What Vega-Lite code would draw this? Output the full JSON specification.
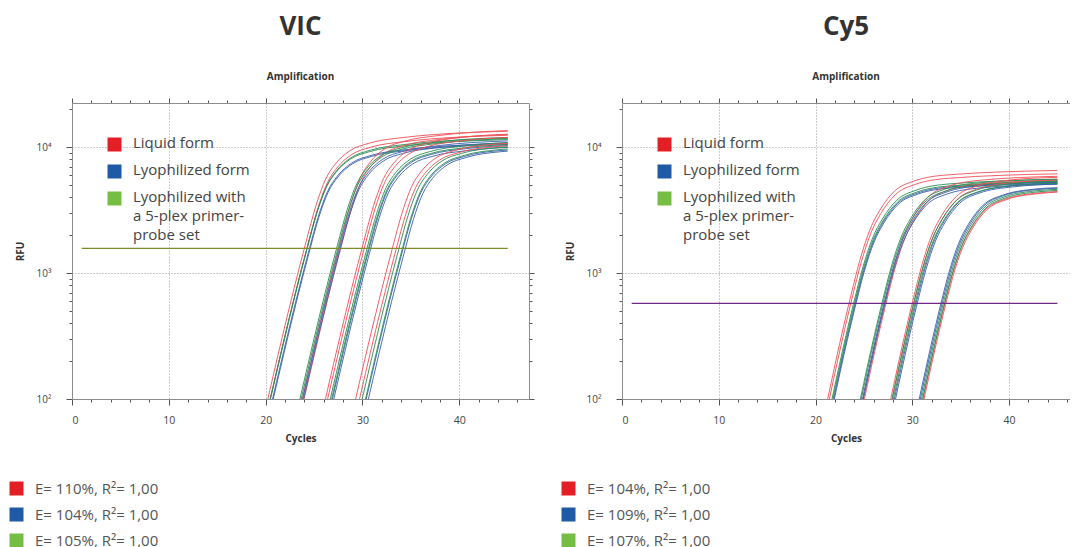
{
  "$schema": "https://vega.github.io/schema/vega-lite/v6.json",
  "padding": {"left": 9, "top": 13, "right": 0, "bottom": 0},
  "spacing": 26,
  "datasets": {
    "keys": [{"g": "L"}, {"g": "F"}, {"g": "P"}],
    "thr": [
      {"p": "VIC", "a": 1, "b": 45, "y": 1570},
      {"p": "Cy5", "a": 1, "b": 45, "y": 575}
    ],
    "vic": [
      {"g":"L","k":1,"c":19.2,"v":45.3},{"g":"L","k":1,"c":24.2,"v":1803},{"g":"L","k":1,"c":25.2,"v":3437},{"g":"L","k":1,"c":26.2,"v":5573},{"g":"L","k":1,"c":27.2,"v":7347},{"g":"L","k":1,"c":28.7,"v":9356},{"g":"L","k":1,"c":30.7,"v":10744},{"g":"L","k":1,"c":34.2,"v":11915},{"g":"L","k":1,"c":45,"v":13370},
      {"g":"L","k":2,"c":19.35,"v":42.1},{"g":"L","k":2,"c":24.35,"v":1674},{"g":"L","k":2,"c":25.35,"v":3192},{"g":"L","k":2,"c":26.35,"v":5175},{"g":"L","k":2,"c":27.35,"v":6822},{"g":"L","k":2,"c":28.85,"v":8688},{"g":"L","k":2,"c":30.85,"v":9976},{"g":"L","k":2,"c":34.35,"v":11064},{"g":"L","k":2,"c":45,"v":12415},
      {"g":"F","k":3,"c":19.4,"v":36.2},{"g":"F","k":3,"c":24.4,"v":1443},{"g":"F","k":3,"c":25.4,"v":2750},{"g":"F","k":3,"c":26.4,"v":4459},{"g":"F","k":3,"c":27.4,"v":5878},{"g":"F","k":3,"c":28.9,"v":7485},{"g":"F","k":3,"c":30.9,"v":8595},{"g":"F","k":3,"c":34.4,"v":9532},{"g":"F","k":3,"c":45,"v":10696},
      {"g":"F","k":4,"c":19.45,"v":35.6},{"g":"F","k":4,"c":24.45,"v":1417},{"g":"F","k":4,"c":25.45,"v":2701},{"g":"F","k":4,"c":26.45,"v":4379},{"g":"F","k":4,"c":27.45,"v":5773},{"g":"F","k":4,"c":28.95,"v":7351},{"g":"F","k":4,"c":30.95,"v":8441},{"g":"F","k":4,"c":34.45,"v":9362},{"g":"F","k":4,"c":45,"v":10505},
      {"g":"P","k":5,"c":19.3,"v":39.8},{"g":"P","k":5,"c":24.3,"v":1584},{"g":"P","k":5,"c":25.3,"v":3020},{"g":"P","k":5,"c":26.3,"v":4897},{"g":"P","k":5,"c":27.3,"v":6455},{"g":"P","k":5,"c":28.8,"v":8220},{"g":"P","k":5,"c":30.8,"v":9439},{"g":"P","k":5,"c":34.3,"v":10469},{"g":"P","k":5,"c":45,"v":11747},
      {"g":"P","k":6,"c":19.25,"v":38.8},{"g":"P","k":6,"c":24.25,"v":1546},{"g":"P","k":6,"c":25.25,"v":2946},{"g":"P","k":6,"c":26.25,"v":4777},{"g":"P","k":6,"c":27.25,"v":6298},{"g":"P","k":6,"c":28.75,"v":8020},{"g":"P","k":6,"c":30.75,"v":9209},{"g":"P","k":6,"c":34.25,"v":10213},{"g":"P","k":6,"c":45,"v":11460},
      {"g":"L","k":7,"c":22.8,"v":46.9},{"g":"L","k":7,"c":27.8,"v":1868},{"g":"L","k":7,"c":28.8,"v":3560},{"g":"L","k":7,"c":29.8,"v":5772},{"g":"L","k":7,"c":30.8,"v":7610},{"g":"L","k":7,"c":32.3,"v":9690},{"g":"L","k":7,"c":34.3,"v":11127},{"g":"L","k":7,"c":37.8,"v":12341},{"g":"L","k":7,"c":45,"v":13529},
      {"g":"L","k":8,"c":22.9,"v":43.7},{"g":"L","k":8,"c":27.9,"v":1739},{"g":"L","k":8,"c":28.9,"v":3314},{"g":"L","k":8,"c":29.9,"v":5374},{"g":"L","k":8,"c":30.9,"v":7085},{"g":"L","k":8,"c":32.4,"v":9022},{"g":"L","k":8,"c":34.4,"v":10360},{"g":"L","k":8,"c":37.9,"v":11490},{"g":"L","k":8,"c":45,"v":12596},
      {"g":"F","k":9,"c":22.6,"v":38.8},{"g":"F","k":9,"c":27.6,"v":1546},{"g":"F","k":9,"c":28.6,"v":2946},{"g":"F","k":9,"c":29.6,"v":4777},{"g":"F","k":9,"c":30.6,"v":6298},{"g":"F","k":9,"c":32.1,"v":8020},{"g":"F","k":9,"c":34.1,"v":9209},{"g":"F","k":9,"c":37.6,"v":10213},{"g":"F","k":9,"c":45,"v":11196},
      {"g":"F","k":10,"c":22.65,"v":37.5},{"g":"F","k":10,"c":27.65,"v":1494},{"g":"F","k":10,"c":28.65,"v":2848},{"g":"F","k":10,"c":29.65,"v":4618},{"g":"F","k":10,"c":30.65,"v":6088},{"g":"F","k":10,"c":32.15,"v":7752},{"g":"F","k":10,"c":34.15,"v":8902},{"g":"F","k":10,"c":37.65,"v":9873},{"g":"F","k":10,"c":45,"v":10823},
      {"g":"P","k":11,"c":22.4,"v":41.4},{"g":"P","k":11,"c":27.4,"v":1649},{"g":"P","k":11,"c":28.4,"v":3142},{"g":"P","k":11,"c":29.4,"v":5096},{"g":"P","k":11,"c":30.4,"v":6717},{"g":"P","k":11,"c":31.9,"v":8554},{"g":"P","k":11,"c":33.9,"v":9823},{"g":"P","k":11,"c":37.4,"v":10894},{"g":"P","k":11,"c":45,"v":11942},
      {"g":"P","k":12,"c":22.5,"v":40.5},{"g":"P","k":12,"c":27.5,"v":1610},{"g":"P","k":12,"c":28.5,"v":3069},{"g":"P","k":12,"c":29.5,"v":4976},{"g":"P","k":12,"c":30.5,"v":6560},{"g":"P","k":12,"c":32,"v":8354},{"g":"P","k":12,"c":34,"v":9593},{"g":"P","k":12,"c":37.5,"v":10639},{"g":"P","k":12,"c":45,"v":11663},
      {"g":"L","k":13,"c":25.15,"v":45.3},{"g":"L","k":13,"c":30.15,"v":1803},{"g":"L","k":13,"c":31.15,"v":3437},{"g":"L","k":13,"c":32.15,"v":5573},{"g":"L","k":13,"c":33.15,"v":7347},{"g":"L","k":13,"c":34.65,"v":9356},{"g":"L","k":13,"c":36.65,"v":10744},{"g":"L","k":13,"c":40.15,"v":11915},{"g":"L","k":13,"c":45,"v":12656},
      {"g":"L","k":14,"c":25.3,"v":42.7},{"g":"L","k":14,"c":30.3,"v":1700},{"g":"L","k":14,"c":31.3,"v":3241},{"g":"L","k":14,"c":32.3,"v":5255},{"g":"L","k":14,"c":33.3,"v":6927},{"g":"L","k":14,"c":34.8,"v":8822},{"g":"L","k":14,"c":36.8,"v":10130},{"g":"L","k":14,"c":40.3,"v":11235},{"g":"L","k":14,"c":45,"v":11933},
      {"g":"F","k":15,"c":25.6,"v":36.9},{"g":"F","k":15,"c":30.6,"v":1468},{"g":"F","k":15,"c":31.6,"v":2799},{"g":"F","k":15,"c":32.6,"v":4538},{"g":"F","k":15,"c":33.6,"v":5983},{"g":"F","k":15,"c":35.1,"v":7619},{"g":"F","k":15,"c":37.1,"v":8748},{"g":"F","k":15,"c":40.6,"v":9703},{"g":"F","k":15,"c":45,"v":10306},
      {"g":"F","k":16,"c":25.7,"v":35.6},{"g":"F","k":16,"c":30.7,"v":1417},{"g":"F","k":16,"c":31.7,"v":2701},{"g":"F","k":16,"c":32.7,"v":4379},{"g":"F","k":16,"c":33.7,"v":5773},{"g":"F","k":16,"c":35.2,"v":7351},{"g":"F","k":16,"c":37.2,"v":8441},{"g":"F","k":16,"c":40.7,"v":9362},{"g":"F","k":16,"c":45,"v":9944},
      {"g":"P","k":17,"c":25.45,"v":38.8},{"g":"P","k":17,"c":30.45,"v":1546},{"g":"P","k":17,"c":31.45,"v":2946},{"g":"P","k":17,"c":32.45,"v":4777},{"g":"P","k":17,"c":33.45,"v":6298},{"g":"P","k":17,"c":34.95,"v":8020},{"g":"P","k":17,"c":36.95,"v":9209},{"g":"P","k":17,"c":40.45,"v":10213},{"g":"P","k":17,"c":45,"v":10848},
      {"g":"P","k":18,"c":25.55,"v":37.5},{"g":"P","k":18,"c":30.55,"v":1494},{"g":"P","k":18,"c":31.55,"v":2848},{"g":"P","k":18,"c":32.55,"v":4618},{"g":"P","k":18,"c":33.55,"v":6088},{"g":"P","k":18,"c":35.05,"v":7752},{"g":"P","k":18,"c":37.05,"v":8902},{"g":"P","k":18,"c":40.55,"v":9873},{"g":"P","k":18,"c":45,"v":10486},
      {"g":"L","k":19,"c":28.1,"v":39.8},{"g":"L","k":19,"c":33.1,"v":1584},{"g":"L","k":19,"c":34.1,"v":3020},{"g":"L","k":19,"c":35.1,"v":4897},{"g":"L","k":19,"c":36.1,"v":6455},{"g":"L","k":19,"c":37.6,"v":8220},{"g":"L","k":19,"c":39.6,"v":9439},{"g":"L","k":19,"c":43.1,"v":10469},{"g":"L","k":19,"c":45,"v":10700},
      {"g":"L","k":20,"c":28.45,"v":38.2},{"g":"L","k":20,"c":33.45,"v":1520},{"g":"L","k":20,"c":34.45,"v":2897},{"g":"L","k":20,"c":35.45,"v":4698},{"g":"L","k":20,"c":36.45,"v":6193},{"g":"L","k":20,"c":37.95,"v":7886},{"g":"L","k":20,"c":39.95,"v":9055},{"g":"L","k":20,"c":43.45,"v":10043},{"g":"L","k":20,"c":45,"v":10230},
      {"g":"F","k":21,"c":29.05,"v":35.6},{"g":"F","k":21,"c":34.05,"v":1417},{"g":"F","k":21,"c":35.05,"v":2701},{"g":"F","k":21,"c":36.05,"v":4379},{"g":"F","k":21,"c":37.05,"v":5773},{"g":"F","k":21,"c":38.55,"v":7351},{"g":"F","k":21,"c":40.55,"v":8441},{"g":"F","k":21,"c":44.05,"v":9362},{"g":"F","k":21,"c":45,"v":9480},
      {"g":"F","k":22,"c":29.25,"v":34.9},{"g":"F","k":22,"c":34.25,"v":1391},{"g":"F","k":22,"c":35.25,"v":2651},{"g":"F","k":22,"c":36.25,"v":4299},{"g":"F","k":22,"c":37.25,"v":5668},{"g":"F","k":22,"c":38.75,"v":7218},{"g":"F","k":22,"c":40.75,"v":8288},{"g":"F","k":22,"c":44.25,"v":9192},{"g":"F","k":22,"c":45,"v":9290},
      {"g":"P","k":23,"c":28.7,"v":37.5},{"g":"P","k":23,"c":33.7,"v":1494},{"g":"P","k":23,"c":34.7,"v":2848},{"g":"P","k":23,"c":35.7,"v":4618},{"g":"P","k":23,"c":36.7,"v":6088},{"g":"P","k":23,"c":38.2,"v":7752},{"g":"P","k":23,"c":40.2,"v":8902},{"g":"P","k":23,"c":43.7,"v":9873},{"g":"P","k":23,"c":45,"v":10050},
      {"g":"P","k":24,"c":29,"v":36.2},{"g":"P","k":24,"c":34,"v":1443},{"g":"P","k":24,"c":35,"v":2750},{"g":"P","k":24,"c":36,"v":4459},{"g":"P","k":24,"c":37,"v":5878},{"g":"P","k":24,"c":38.5,"v":7485},{"g":"P","k":24,"c":40.5,"v":8595},{"g":"P","k":24,"c":44,"v":9532},{"g":"P","k":24,"c":45,"v":9680}
    ],
    "cy5": [
      {"g":"L","k":1,"c":20.65,"v":60.2},{"g":"L","k":1,"c":23.65,"v":660},{"g":"L","k":1,"c":24.65,"v":1317},{"g":"L","k":1,"c":25.65,"v":2236},{"g":"L","k":1,"c":26.65,"v":3159},{"g":"L","k":1,"c":28.15,"v":4462},{"g":"L","k":1,"c":30.15,"v":5364},{"g":"L","k":1,"c":33.65,"v":6019},{"g":"L","k":1,"c":45,"v":6527},
      {"g":"L","k":2,"c":20.75,"v":56.5},{"g":"L","k":2,"c":23.75,"v":620},{"g":"L","k":2,"c":24.75,"v":1237},{"g":"L","k":2,"c":25.75,"v":2101},{"g":"L","k":2,"c":26.75,"v":2967},{"g":"L","k":2,"c":28.25,"v":4192},{"g":"L","k":2,"c":30.25,"v":5039},{"g":"L","k":2,"c":33.75,"v":5654},{"g":"L","k":2,"c":45,"v":6132},
      {"g":"F","k":3,"c":21,"v":48.3},{"g":"F","k":3,"c":24,"v":530},{"g":"F","k":3,"c":25,"v":1057},{"g":"F","k":3,"c":26,"v":1796},{"g":"F","k":3,"c":27,"v":2537},{"g":"F","k":3,"c":28.5,"v":3583},{"g":"F","k":3,"c":30.5,"v":4308},{"g":"F","k":3,"c":34,"v":4834},{"g":"F","k":3,"c":45,"v":5242},
      {"g":"F","k":4,"c":21.05,"v":47.4},{"g":"F","k":4,"c":24.05,"v":520},{"g":"F","k":4,"c":25.05,"v":1037},{"g":"F","k":4,"c":26.05,"v":1762},{"g":"F","k":4,"c":27.05,"v":2489},{"g":"F","k":4,"c":28.55,"v":3516},{"g":"F","k":4,"c":30.55,"v":4227},{"g":"F","k":4,"c":34.05,"v":4742},{"g":"F","k":4,"c":45,"v":5143},
      {"g":"P","k":5,"c":20.9,"v":51.1},{"g":"P","k":5,"c":23.9,"v":560},{"g":"P","k":5,"c":24.9,"v":1117},{"g":"P","k":5,"c":25.9,"v":1897},{"g":"P","k":5,"c":26.9,"v":2680},{"g":"P","k":5,"c":28.4,"v":3786},{"g":"P","k":5,"c":30.4,"v":4552},{"g":"P","k":5,"c":33.9,"v":5107},{"g":"P","k":5,"c":45,"v":5538},
      {"g":"P","k":6,"c":20.95,"v":49.2},{"g":"P","k":6,"c":23.95,"v":540},{"g":"P","k":6,"c":24.95,"v":1077},{"g":"P","k":6,"c":25.95,"v":1830},{"g":"P","k":6,"c":26.95,"v":2584},{"g":"P","k":6,"c":28.45,"v":3651},{"g":"P","k":6,"c":30.45,"v":4389},{"g":"P","k":6,"c":33.95,"v":4925},{"g":"P","k":6,"c":45,"v":5341},
      {"g":"L","k":7,"c":24.2,"v":54.7},{"g":"L","k":7,"c":27.2,"v":600},{"g":"L","k":7,"c":28.2,"v":1197},{"g":"L","k":7,"c":29.2,"v":2033},{"g":"L","k":7,"c":30.2,"v":2872},{"g":"L","k":7,"c":31.7,"v":4057},{"g":"L","k":7,"c":33.7,"v":4877},{"g":"L","k":7,"c":37.2,"v":5472},{"g":"L","k":7,"c":45,"v":5862},
      {"g":"L","k":8,"c":24.25,"v":51.1},{"g":"L","k":8,"c":27.25,"v":560},{"g":"L","k":8,"c":28.25,"v":1117},{"g":"L","k":8,"c":29.25,"v":1897},{"g":"L","k":8,"c":30.25,"v":2680},{"g":"L","k":8,"c":31.75,"v":3786},{"g":"L","k":8,"c":33.75,"v":4552},{"g":"L","k":8,"c":37.25,"v":5107},{"g":"L","k":8,"c":45,"v":5471},
      {"g":"F","k":9,"c":24,"v":49.2},{"g":"F","k":9,"c":27,"v":540},{"g":"F","k":9,"c":28,"v":1077},{"g":"F","k":9,"c":29,"v":1830},{"g":"F","k":9,"c":30,"v":2584},{"g":"F","k":9,"c":31.5,"v":3651},{"g":"F","k":9,"c":33.5,"v":4389},{"g":"F","k":9,"c":37,"v":4925},{"g":"F","k":9,"c":45,"v":5276},
      {"g":"F","k":10,"c":24.05,"v":47.4},{"g":"F","k":10,"c":27.05,"v":520},{"g":"F","k":10,"c":28.05,"v":1037},{"g":"F","k":10,"c":29.05,"v":1762},{"g":"F","k":10,"c":30.05,"v":2489},{"g":"F","k":10,"c":31.55,"v":3516},{"g":"F","k":10,"c":33.55,"v":4227},{"g":"F","k":10,"c":37.05,"v":4742},{"g":"F","k":10,"c":45,"v":5080},
      {"g":"P","k":11,"c":23.85,"v":52},{"g":"P","k":11,"c":26.85,"v":570},{"g":"P","k":11,"c":27.85,"v":1137},{"g":"P","k":11,"c":28.85,"v":1931},{"g":"P","k":11,"c":29.85,"v":2728},{"g":"P","k":11,"c":31.35,"v":3854},{"g":"P","k":11,"c":33.35,"v":4633},{"g":"P","k":11,"c":36.85,"v":5198},{"g":"P","k":11,"c":45,"v":5569},
      {"g":"P","k":12,"c":23.9,"v":50.2},{"g":"P","k":12,"c":26.9,"v":550},{"g":"P","k":12,"c":27.9,"v":1097},{"g":"P","k":12,"c":28.9,"v":1863},{"g":"P","k":12,"c":29.9,"v":2632},{"g":"P","k":12,"c":31.4,"v":3719},{"g":"P","k":12,"c":33.4,"v":4470},{"g":"P","k":12,"c":36.9,"v":5016},{"g":"P","k":12,"c":45,"v":5374},
      {"g":"L","k":13,"c":27.05,"v":54.7},{"g":"L","k":13,"c":30.05,"v":600},{"g":"L","k":13,"c":31.05,"v":1197},{"g":"L","k":13,"c":32.05,"v":2033},{"g":"L","k":13,"c":33.05,"v":2872},{"g":"L","k":13,"c":34.55,"v":4057},{"g":"L","k":13,"c":36.55,"v":4877},{"g":"L","k":13,"c":40.05,"v":5472},{"g":"L","k":13,"c":45,"v":5754},
      {"g":"L","k":14,"c":27.15,"v":52},{"g":"L","k":14,"c":30.15,"v":570},{"g":"L","k":14,"c":31.15,"v":1137},{"g":"L","k":14,"c":32.15,"v":1931},{"g":"L","k":14,"c":33.15,"v":2728},{"g":"L","k":14,"c":34.65,"v":3854},{"g":"L","k":14,"c":36.65,"v":4633},{"g":"L","k":14,"c":40.15,"v":5198},{"g":"L","k":14,"c":45,"v":5466},
      {"g":"F","k":15,"c":27.3,"v":49.2},{"g":"F","k":15,"c":30.3,"v":540},{"g":"F","k":15,"c":31.3,"v":1077},{"g":"F","k":15,"c":32.3,"v":1830},{"g":"F","k":15,"c":33.3,"v":2584},{"g":"F","k":15,"c":34.8,"v":3651},{"g":"F","k":15,"c":36.8,"v":4389},{"g":"F","k":15,"c":40.3,"v":4925},{"g":"F","k":15,"c":45,"v":5179},
      {"g":"F","k":16,"c":27.4,"v":48.3},{"g":"F","k":16,"c":30.4,"v":530},{"g":"F","k":16,"c":31.4,"v":1057},{"g":"F","k":16,"c":32.4,"v":1796},{"g":"F","k":16,"c":33.4,"v":2537},{"g":"F","k":16,"c":34.9,"v":3583},{"g":"F","k":16,"c":36.9,"v":4308},{"g":"F","k":16,"c":40.4,"v":4834},{"g":"F","k":16,"c":45,"v":5083},
      {"g":"P","k":17,"c":27.1,"v":51.1},{"g":"P","k":17,"c":30.1,"v":560},{"g":"P","k":17,"c":31.1,"v":1117},{"g":"P","k":17,"c":32.1,"v":1897},{"g":"P","k":17,"c":33.1,"v":2680},{"g":"P","k":17,"c":34.6,"v":3786},{"g":"P","k":17,"c":36.6,"v":4552},{"g":"P","k":17,"c":40.1,"v":5107},{"g":"P","k":17,"c":45,"v":5370},
      {"g":"P","k":18,"c":27.2,"v":49.2},{"g":"P","k":18,"c":30.2,"v":540},{"g":"P","k":18,"c":31.2,"v":1077},{"g":"P","k":18,"c":32.2,"v":1830},{"g":"P","k":18,"c":33.2,"v":2584},{"g":"P","k":18,"c":34.7,"v":3651},{"g":"P","k":18,"c":36.7,"v":4389},{"g":"P","k":18,"c":40.2,"v":4925},{"g":"P","k":18,"c":45,"v":5179},
      {"g":"L","k":19,"c":30.1,"v":43.3},{"g":"L","k":19,"c":33.1,"v":475},{"g":"L","k":19,"c":34.1,"v":948},{"g":"L","k":19,"c":35.1,"v":1609},{"g":"L","k":19,"c":36.1,"v":2273},{"g":"L","k":19,"c":37.6,"v":3211},{"g":"L","k":19,"c":39.6,"v":3861},{"g":"L","k":19,"c":43.1,"v":4332},{"g":"L","k":19,"c":45,"v":4440},
      {"g":"L","k":20,"c":30.2,"v":42.9},{"g":"L","k":20,"c":33.2,"v":470},{"g":"L","k":20,"c":34.2,"v":938},{"g":"L","k":20,"c":35.2,"v":1592},{"g":"L","k":20,"c":36.2,"v":2249},{"g":"L","k":20,"c":37.7,"v":3178},{"g":"L","k":20,"c":39.7,"v":3820},{"g":"L","k":20,"c":43.2,"v":4286},{"g":"L","k":20,"c":45,"v":4390},
      {"g":"F","k":21,"c":29.8,"v":46.5},{"g":"F","k":21,"c":32.8,"v":510},{"g":"F","k":21,"c":33.8,"v":1017},{"g":"F","k":21,"c":34.8,"v":1728},{"g":"F","k":21,"c":35.8,"v":2441},{"g":"F","k":21,"c":37.3,"v":3448},{"g":"F","k":21,"c":39.3,"v":4145},{"g":"F","k":21,"c":42.8,"v":4651},{"g":"F","k":21,"c":45,"v":4760},
      {"g":"F","k":22,"c":29.9,"v":46.1},{"g":"F","k":22,"c":32.9,"v":505},{"g":"F","k":22,"c":33.9,"v":1007},{"g":"F","k":22,"c":34.9,"v":1711},{"g":"F","k":22,"c":35.9,"v":2417},{"g":"F","k":22,"c":37.4,"v":3414},{"g":"F","k":22,"c":39.4,"v":4105},{"g":"F","k":22,"c":42.9,"v":4606},{"g":"F","k":22,"c":45,"v":4710},
      {"g":"P","k":23,"c":30,"v":45.1},{"g":"P","k":23,"c":33,"v":495},{"g":"P","k":23,"c":34,"v":988},{"g":"P","k":23,"c":35,"v":1677},{"g":"P","k":23,"c":36,"v":2369},{"g":"P","k":23,"c":37.5,"v":3347},{"g":"P","k":23,"c":39.5,"v":4023},{"g":"P","k":23,"c":43,"v":4514},{"g":"P","k":23,"c":45,"v":4620},
      {"g":"P","k":24,"c":30.1,"v":44.2},{"g":"P","k":24,"c":33.1,"v":485},{"g":"P","k":24,"c":34.1,"v":968},{"g":"P","k":24,"c":35.1,"v":1643},{"g":"P","k":24,"c":36.1,"v":2321},{"g":"P","k":24,"c":37.6,"v":3279},{"g":"P","k":24,"c":39.6,"v":3942},{"g":"P","k":24,"c":43.1,"v":4423},{"g":"P","k":24,"c":45,"v":4530}
    ]
  },
  "hconcat": [
    {
      "title": {"text": "VIC", "subtitle": "Amplification"},
      "width": 457,
      "height": 296,
      "layer": [
        {
          "data": {"name": "vic"},
          "mark": {"type": "line", "clip": true, "strokeWidth": 1, "interpolate": "monotone", "opacity": 0.9},
          "encoding": {
            "x": {
              "field": "c", "type": "quantitative", "title": "Cycles",
              "scale": {"domain": [0, 47.2], "nice": false, "zero": false},
              "axis": {
                "values": [0,2,4,6,8,10,12,14,16,18,20,22,24,26,28,30,32,34,36,38,40,42,44,46],
                "labelExpr": "datum.value % 10 === 0 ? datum.label : ''",
                "tickSize": {"condition": {"test": "datum.value % 10 === 0", "value": 6}, "value": 3},
                "gridOpacity": {"condition": {"test": "datum.value % 10 === 0 && datum.value > 0", "value": 1}, "value": 0},
                "grid": true, "gridDash": [1, 2], "gridColor": "#9a9a9a",
                "labelPadding": 10, "labelFontSize": 10.5, "titlePadding": 8
              }
            },
            "y": {
              "field": "v", "type": "quantitative", "title": "RFU",
              "scale": {"type": "log", "domain": [100, 22400], "nice": false},
              "axis": {
                "values": [100,200,300,400,500,600,700,800,900,1000,2000,3000,4000,5000,6000,7000,8000,9000,10000,20000],
                "labelExpr": "datum.value === 100 ? '10²' : datum.value === 1000 ? '10³' : datum.value === 10000 ? '10⁴' : ''",
                "tickSize": {"condition": {"test": "datum.value === 100 || datum.value === 1000 || datum.value === 10000", "value": 6}, "value": 3},
                "gridOpacity": {"condition": {"test": "datum.value === 1000 || datum.value === 10000", "value": 1}, "value": 0},
                "grid": true, "gridDash": [1, 2], "gridColor": "#9a9a9a",
                "labelPadding": 15, "titlePadding": 11
              }
            },
            "color": {
              "field": "g", "type": "nominal", "legend": null,
              "scale": {"domain": ["L", "F", "P"], "range": ["#ef4f56", "#3a5eab", "#2a8d55"]}
            },
            "detail": {"field": "k", "type": "nominal"}
          }
        },
        {
          "data": {"name": "thr"},
          "transform": [{"filter": "datum.p === 'VIC'"}],
          "mark": {"type": "rule", "color": "#7d8c2a", "strokeWidth": 1.2},
          "encoding": {
            "x": {
              "field": "a", "type": "quantitative",
              "axis": {
                "orient": "top", "title": null, "labels": false, "grid": false,
                "values": [0,2,4,6,8,10,12,14,16,18,20,22,24,26,28,30,32,34,36,38,40,42,44,46],
                "tickSize": {"condition": {"test": "datum.value % 10 === 0", "value": 5}, "value": 3}
              }
            },
            "x2": {"field": "b"},
            "y": {
              "field": "y", "type": "quantitative",
              "axis": {
                "orient": "right", "title": null, "labels": false, "grid": false,
                "values": [100,200,300,400,500,600,700,800,900,1000,2000,3000,4000,5000,6000,7000,8000,9000,10000,20000],
                "tickSize": {"condition": {"test": "datum.value === 100 || datum.value === 1000 || datum.value === 10000", "value": 5}, "value": 3}
              }
            }
          }
        },
        {
          "data": {"name": "keys"},
          "mark": {"type": "square", "opacity": 0},
          "encoding": {
            "fill": {
              "field": "g", "type": "nominal",
              "scale": {"domain": ["L", "F", "P"], "range": ["#e31e24", "#1f5aa6", "#76bd43"]},
              "legend": {
                "orient": "none", "legendX": 35, "legendY": 34, "title": null,
                "symbolType": "square", "symbolSize": 196, "symbolOpacity": 1, "symbolStrokeWidth": 0,
                "labelFontSize": 15, "labelColor": "#444", "labelLimit": 400, "labelOffset": 11,
                "rowPadding": 10, "labelBaseline": "top",
                "labelExpr": "datum.value === 'L' ? 'Liquid form' : datum.value === 'F' ? 'Lyophilized form' : ['Lyophilized with', 'a 5-plex primer-', 'probe set']",
                "encode": {
                  "labels": {"update": {"dy": {"value": -9}, "lineHeight": {"value": 19}}},
                  "symbols": {"update": {"opacity": {"value": 1}, "fillOpacity": {"value": 1}}}
                }
              }
            }
          }
        },
        {
          "data": {"name": "keys"},
          "mark": {"type": "square", "opacity": 0},
          "encoding": {
            "fill": {
              "field": "g", "type": "nominal",
              "scale": {"domain": ["L", "F", "P"], "range": ["#e31e24", "#1f5aa6", "#76bd43"]},
              "legend": {
                "orient": "none", "legendX": -63, "legendY": 378, "title": null,
                "symbolType": "square", "symbolSize": 196, "symbolOpacity": 1, "symbolStrokeWidth": 0,
                "labelFontSize": 15, "labelColor": "#555", "labelLimit": 400, "labelOffset": 11,
                "rowPadding": 10,
                "labelExpr": "datum.value === 'L' ? 'E= 110%, R²= 1,00' : datum.value === 'F' ? 'E= 104%, R²= 1,00' : 'E= 105%, R²= 1,00'",
                "encode": {
                  "symbols": {"update": {"opacity": {"value": 1}, "fillOpacity": {"value": 1}}}
                }
              }
            }
          }
        }
      ],
      "resolve": {
        "scale": {"fill": "independent"},
        "legend": {"fill": "independent"},
        "axis": {"x": "independent", "y": "independent"}
      }
    },
    {
      "title": {"text": "Cy5", "subtitle": "Amplification"},
      "width": 448,
      "height": 296,
      "layer": [
        {
          "data": {"name": "cy5"},
          "mark": {"type": "line", "clip": true, "strokeWidth": 1, "interpolate": "monotone", "opacity": 0.9},
          "encoding": {
            "x": {
              "field": "c", "type": "quantitative", "title": "Cycles",
              "scale": {"domain": [0, 46.3], "nice": false, "zero": false},
              "axis": {
                "values": [0,2,4,6,8,10,12,14,16,18,20,22,24,26,28,30,32,34,36,38,40,42,44,46],
                "labelExpr": "datum.value % 10 === 0 ? datum.label : ''",
                "tickSize": {"condition": {"test": "datum.value % 10 === 0", "value": 6}, "value": 3},
                "gridOpacity": {"condition": {"test": "datum.value % 10 === 0 && datum.value > 0", "value": 1}, "value": 0},
                "grid": true, "gridDash": [1, 2], "gridColor": "#9a9a9a",
                "labelPadding": 10, "labelFontSize": 10.5, "titlePadding": 8
              }
            },
            "y": {
              "field": "v", "type": "quantitative", "title": "RFU",
              "scale": {"type": "log", "domain": [100, 22400], "nice": false},
              "axis": {
                "values": [100,200,300,400,500,600,700,800,900,1000,2000,3000,4000,5000,6000,7000,8000,9000,10000,20000],
                "labelExpr": "datum.value === 100 ? '10²' : datum.value === 1000 ? '10³' : datum.value === 10000 ? '10⁴' : ''",
                "tickSize": {"condition": {"test": "datum.value === 100 || datum.value === 1000 || datum.value === 10000", "value": 6}, "value": 3},
                "gridOpacity": {"condition": {"test": "datum.value === 1000 || datum.value === 10000", "value": 1}, "value": 0},
                "grid": true, "gridDash": [1, 2], "gridColor": "#9a9a9a",
                "labelPadding": 15, "titlePadding": 11
              }
            },
            "color": {
              "field": "g", "type": "nominal", "legend": null,
              "scale": {"domain": ["L", "F", "P"], "range": ["#ef4f56", "#3a5eab", "#2a8d55"]}
            },
            "detail": {"field": "k", "type": "nominal"}
          }
        },
        {
          "data": {"name": "thr"},
          "transform": [{"filter": "datum.p === 'Cy5'"}],
          "mark": {"type": "rule", "color": "#6e2a86", "strokeWidth": 1.2},
          "encoding": {
            "x": {
              "field": "a", "type": "quantitative",
              "axis": {
                "orient": "top", "title": null, "labels": false, "grid": false,
                "values": [0,2,4,6,8,10,12,14,16,18,20,22,24,26,28,30,32,34,36,38,40,42,44,46],
                "tickSize": {"condition": {"test": "datum.value % 10 === 0", "value": 5}, "value": 3}
              }
            },
            "x2": {"field": "b"},
            "y": {"field": "y", "type": "quantitative", "axis": null}
          }
        },
        {
          "data": {"name": "keys"},
          "mark": {"type": "square", "opacity": 0},
          "encoding": {
            "fill": {
              "field": "g", "type": "nominal",
              "scale": {"domain": ["L", "F", "P"], "range": ["#e31e24", "#1f5aa6", "#76bd43"]},
              "legend": {
                "orient": "none", "legendX": 35, "legendY": 34, "title": null,
                "symbolType": "square", "symbolSize": 196, "symbolOpacity": 1, "symbolStrokeWidth": 0,
                "labelFontSize": 15, "labelColor": "#444", "labelLimit": 400, "labelOffset": 11,
                "rowPadding": 10, "labelBaseline": "top",
                "labelExpr": "datum.value === 'L' ? 'Liquid form' : datum.value === 'F' ? 'Lyophilized form' : ['Lyophilized with', 'a 5-plex primer-', 'probe set']",
                "encode": {
                  "labels": {"update": {"dy": {"value": -9}, "lineHeight": {"value": 19}}},
                  "symbols": {"update": {"opacity": {"value": 1}, "fillOpacity": {"value": 1}}}
                }
              }
            }
          }
        },
        {
          "data": {"name": "keys"},
          "mark": {"type": "square", "opacity": 0},
          "encoding": {
            "fill": {
              "field": "g", "type": "nominal",
              "scale": {"domain": ["L", "F", "P"], "range": ["#e31e24", "#1f5aa6", "#76bd43"]},
              "legend": {
                "orient": "none", "legendX": -61, "legendY": 378, "title": null,
                "symbolType": "square", "symbolSize": 196, "symbolOpacity": 1, "symbolStrokeWidth": 0,
                "labelFontSize": 15, "labelColor": "#555", "labelLimit": 400, "labelOffset": 11,
                "rowPadding": 10,
                "labelExpr": "datum.value === 'L' ? 'E= 104%, R²= 1,00' : datum.value === 'F' ? 'E= 109%, R²= 1,00' : 'E= 107%, R²= 1,00'",
                "encode": {
                  "symbols": {"update": {"opacity": {"value": 1}, "fillOpacity": {"value": 1}}}
                }
              }
            }
          }
        }
      ],
      "resolve": {
        "scale": {"fill": "independent"},
        "legend": {"fill": "independent"},
        "axis": {"x": "independent", "y": "independent"}
      }
    }
  ],
  "config": {
    "font": "Open Sans",
    "view": {"stroke": null},
    "axis": {
      "labelFontSize": 10, "labelColor": "#444",
      "titleFontSize": 10, "titleFontWeight": "bold", "titleColor": "#333",
      "domainColor": "#8c8c8c", "tickColor": "#555"
    },
    "title": {
      "fontSize": 26, "fontWeight": "bold", "color": "#333",
      "subtitleFontSize": 10, "subtitleFontWeight": "bold", "subtitleColor": "#333",
      "subtitlePadding": 32, "offset": 16, "anchor": "middle", "frame": "group"
    },
    "legend": {"padding": 0}
  }
}
